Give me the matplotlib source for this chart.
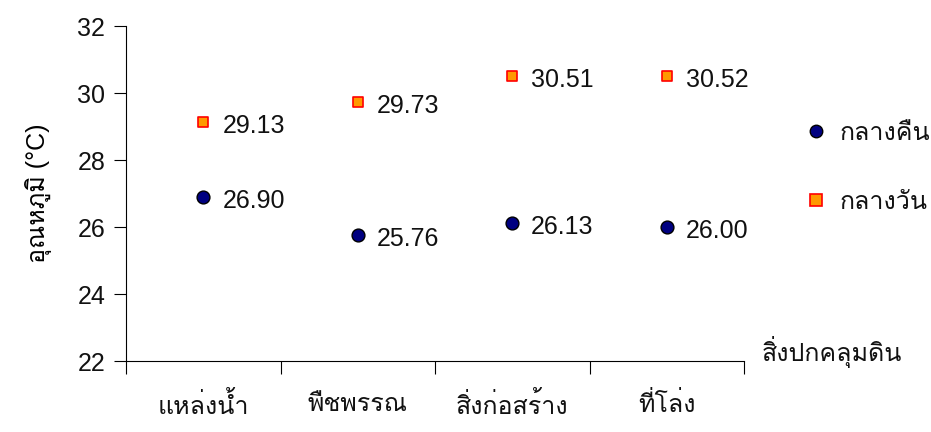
import matplotlib
matplotlib.use("Agg")
import matplotlib.pyplot as plt
from matplotlib import font_manager
from matplotlib.ft2font import FT2Font
from matplotlib.lines import Line2D

categories = ['แหล่งน้ำ', 'พืชพรรณ', 'สิ่งก่อสร้าง', 'ที่โล่ง']
day_values = [29.13, 29.73, 30.51, 30.52]
night_values = [26.90, 25.76, 26.13, 26.00]
series_names = ['กลางคืน', 'กลางวัน']
y_ticks = [22, 24, 26, 28, 30, 32]
x_title = 'สิ่งปกคลุมดิน'
y_title = 'อุณหภูมิ (°C)'

# find a font with Thai glyphs
thai_font = None
for f in font_manager.fontManager.ttflist:
    try:
        if 0x0E01 in FT2Font(f.fname).get_charmap():
            thai_font = f.name
            break
    except Exception:
        pass
fams = ['Liberation Sans']
if thai_font:
    fams.append(thai_font)
fams.append('DejaVu Sans')
plt.rcParams['font.family'] = fams
plt.rcParams['text.color'] = '#111111'

W, H = 931, 432
fig = plt.figure(figsize=(W / 100, H / 100), dpi=100)
ax = fig.add_axes([126 / W, 1 - 361 / H, (744 - 126) / W, (361 - 26) / H])

xs = [i + 0.5 for i in range(len(categories))]
ax.scatter(xs, night_values, marker='o', s=85, facecolor='#000080', edgecolor='black', linewidth=1, zorder=3, clip_on=False)
ax.scatter(xs, day_values, marker='s', s=60, facecolor='#FF9900', edgecolor='#FF0000', linewidth=1.2, zorder=3, clip_on=False)

fs = 18
for x, v in zip(xs, night_values):
    ax.annotate(f'{v:.2f}', (x, v), xytext=(19, -4), textcoords='offset pixels', ha='left', va='center', fontsize=fs)
for x, v in zip(xs, day_values):
    ax.annotate(f'{v:.2f}', (x, v), xytext=(19, -4), textcoords='offset pixels', ha='left', va='center', fontsize=fs)

ax.set_xlim(0, len(categories))
ax.set_ylim(22, 32)
ax.set_yticks(y_ticks)
ax.set_yticklabels([str(t) for t in y_ticks], fontsize=fs, color='#111111')
ax.set_xticks(range(len(categories) + 1))
ax.set_xticklabels([''] * (len(categories) + 1))
ax.set_xticks(xs, minor=True)
ax.set_xticklabels(categories, minor=True, fontsize=fs, color='#111111')
ax.tick_params(axis='x', which='minor', length=0, pad=22)
ax.tick_params(axis='both', which='major', length=9, width=0.8, direction='out', color='black')
ax.tick_params(axis='y', pad=6)
for s in ['top', 'right']:
    ax.spines[s].set_visible(False)
for s in ['left', 'bottom']:
    ax.spines[s].set_linewidth(0.8)

ax.set_ylabel(y_title, fontsize=fs, labelpad=18)
fig.text(762 / W, 1 - 352 / H, x_title, ha='left', va='center', fontsize=fs)

handles = [
    Line2D([], [], linestyle='none', marker='o', markersize=9, markerfacecolor='#000080', markeredgecolor='black'),
    Line2D([], [], linestyle='none', marker='s', markersize=8, markerfacecolor='#FF9900', markeredgecolor='#FF0000', markeredgewidth=1.2),
]
fig.legend(handles, series_names, loc='upper left', bbox_to_anchor=(802 / W, 1 - 121 / H), frameon=False,
           fontsize=fs, handlelength=1.1, handletextpad=0.4, labelspacing=1.8, borderaxespad=0, borderpad=0)

fig.savefig('out.png', dpi=100, facecolor='white')
